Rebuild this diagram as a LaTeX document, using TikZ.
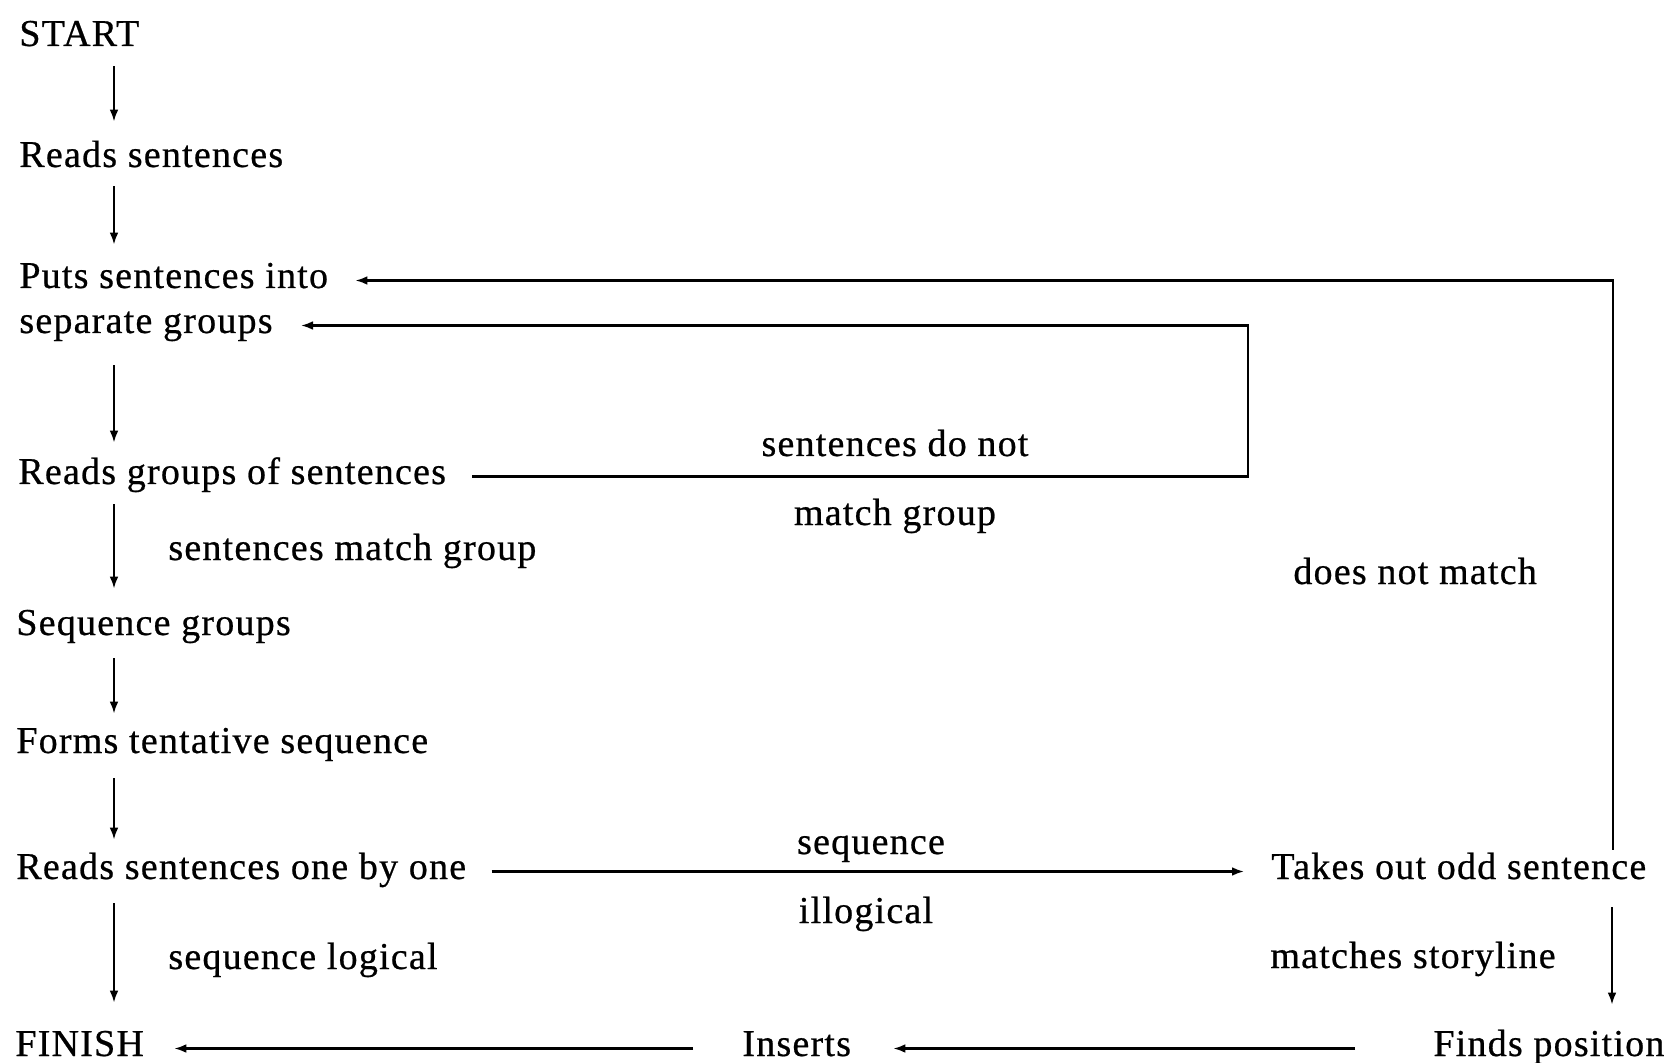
\documentclass[tikz,border=0pt]{standalone}
\usepackage{fontspec}
\setmainfont{Liberation Serif}[LetterSpace=3.2, FakeBold=0.6]
\usetikzlibrary{arrows.meta}

\tikzset{
  txt/.style={inner sep=0pt, text height=12.5pt, text depth=5pt, anchor=base west,
              font=\fontsize{19pt}{22pt}\selectfont},
  ctxt/.style={txt, anchor=base},
  arr/.style={draw=black, line width=1.05pt, -{Latex[length=6pt,width=4.4pt]}},
  wire/.style={draw=black, line width=1.05pt}
}

\begin{document}
\begin{tikzpicture}[x=0.5pt, y=-0.5pt]
  \useasboundingbox[fill=white] (0,0) rectangle (1664,1063);

  % main column
  \node[txt] (start)   at (19,46)   {START};
  \node[txt] (reads)   at (19,167)  {Reads sentences};
  \node[txt] (puts)    at (19,288)  {Puts sentences into};
  \node[txt] (sep)     at (19,333)  {separate groups};
  \node[txt] (rgroups) at (18,484)  {Reads groups of sentences};
  \node[txt] (seqg)    at (16,635)  {Sequence groups};
  \node[txt] (forms)   at (16,753)  {Forms tentative sequence};
  \node[txt] (rone)    at (16,879)  {Reads sentences one by one};
  \node[txt] (finish)  at (15,1056) {FINISH};

  % right-hand and bottom steps
  \node[txt] (takes)   at (1271,879) {Takes out odd sentence};
  \node[txt] (finds)   at (1433,1056) {Finds position};
  \node[txt] (inserts) at (742,1056) {Inserts};

  % branch labels
  \node[ctxt] (lnot1)  at (895,456) {sentences do not};
  \node[ctxt] (lnot2)  at (895,525) {match group};
  \node[txt]  (lmatch) at (168,560) {sentences match group};
  \node[txt]  (ldnm)   at (1293,584) {does not match};
  \node[ctxt] (lseq)   at (871,854) {sequence};
  \node[ctxt] (lill)   at (866,923) {illogical};
  \node[txt]  (llog)   at (168,969) {sequence logical};
  \node[txt]  (lstory) at (1270,968) {matches storyline};

  % guide coordinates for the column and the loops
  \coordinate (col)    at (114,0);
  \coordinate (rcol)   at (1612,0);
  \coordinate (innerR) at (1248,0);
  \coordinate (outerR) at (1613,0);

  % downward flow
  \draw[arr, shorten <=5pt,   shorten >=10pt]   (start.south -| col)   -- (reads.north -| col);
  \draw[arr, shorten <=4.5pt, shorten >=9pt]    (reads.south -| col)   -- (puts.north -| col);
  \draw[arr, shorten <=11pt,  shorten >=8pt]    (sep.south -| col)     -- (rgroups.north -| col);
  \draw[arr, shorten <=5pt,   shorten >=10.5pt] (rgroups.south -| col) -- (seqg.north -| col);
  \draw[arr, shorten <=6.5pt, shorten >=7pt]    (seqg.south -| col)    -- (forms.north -| col);
  \draw[arr, shorten <=7.5pt, shorten >=7pt]    (forms.south -| col)   -- (rone.north -| col);
  \draw[arr, shorten <=7pt,   shorten >=14pt]   (rone.south -| col)    -- (finish.north -| col);

  % groups that do not match go back to grouping
  \draw[arr, shorten <=13pt, shorten >=14pt]
    (rgroups.east) -- (rgroups.east -| innerR) -- (innerR |- sep.east) -- (sep.east);

  % illogical sequence
  \draw[arr, shorten <=12.5pt, shorten >=13.5pt] (rone.east) -- (takes.west);

  % odd sentence that does not match starts again
  \draw[arr, shorten <=2pt, shorten >=13.5pt]
    (takes.north -| outerR) -- (outerR |- puts.east) -- (puts.east);

  % odd sentence matches the storyline
  \draw[arr, shorten <=9pt, shorten >=13pt] (takes.south -| rcol) -- (finds.north -| rcol);
  \draw[arr, shorten <=39pt,  shorten >=21pt]   (finds.west) -- (inserts.east);
  \draw[arr, shorten <=24.5pt, shorten >=15pt]  (inserts.west) -- (finish.east);
\end{tikzpicture}
\end{document}
